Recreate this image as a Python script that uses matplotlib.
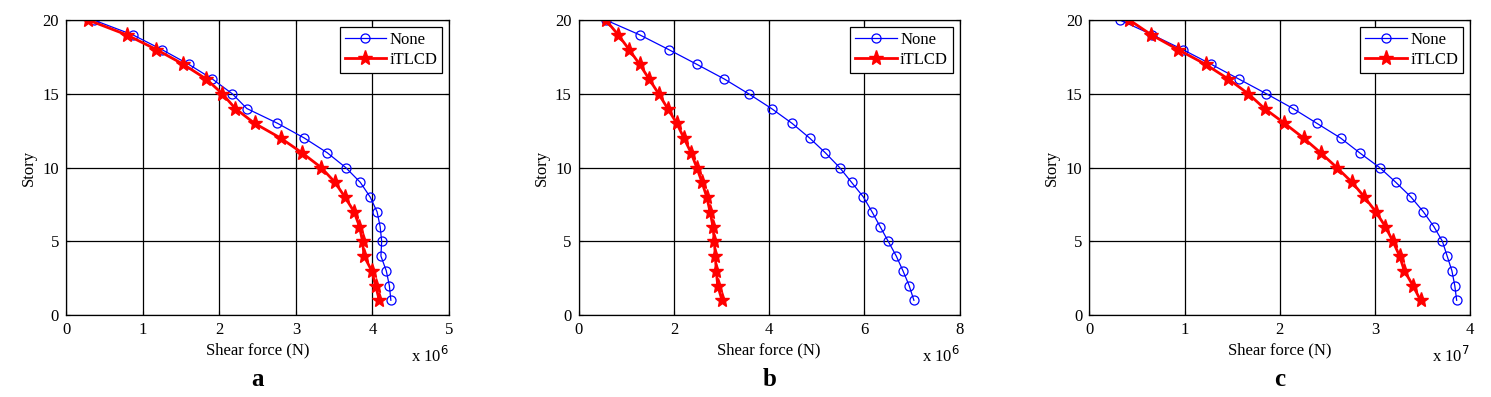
import matplotlib.pyplot as plt

stories = list(range(20, 0, -1))

# panel a (x 1e6 N)
a_none = [0.36, 0.87, 1.25, 1.60, 1.91, 2.17, 2.36, 2.76, 3.11, 3.41,
          3.65, 3.84, 3.97, 4.06, 4.10, 4.12, 4.11, 4.18, 4.22, 4.24]
a_itlcd = [0.29, 0.79, 1.18, 1.53, 1.83, 2.04, 2.21, 2.46, 2.80, 3.08,
           3.33, 3.51, 3.64, 3.76, 3.83, 3.87, 3.89, 3.99, 4.04, 4.09]

# panel b (x 1e6 N)
b_none = [0.57, 1.28, 1.89, 2.48, 3.06, 3.57, 4.05, 4.48, 4.85, 5.18,
          5.48, 5.73, 5.98, 6.16, 6.33, 6.50, 6.67, 6.81, 6.94, 7.04]
b_itlcd = [0.57, 0.83, 1.06, 1.28, 1.48, 1.68, 1.87, 2.06, 2.21, 2.36,
           2.48, 2.59, 2.69, 2.76, 2.82, 2.85, 2.87, 2.89, 2.92, 3.01]

# panel c (x 1e7 N)
c_none = [0.32, 0.66, 0.98, 1.28, 1.57, 1.86, 2.14, 2.39, 2.64, 2.84,
          3.05, 3.22, 3.38, 3.51, 3.62, 3.71, 3.76, 3.81, 3.84, 3.86]
c_itlcd = [0.42, 0.65, 0.93, 1.22, 1.46, 1.67, 1.84, 2.05, 2.25, 2.43,
           2.60, 2.76, 2.89, 3.01, 3.11, 3.19, 3.26, 3.31, 3.40, 3.48]

panels = [
    ("a", a_none, a_itlcd, 5, [0, 1, 2, 3, 4, 5], "6", 0.0443, 0.2569),
    ("b", b_none, b_itlcd, 8, [0, 2, 4, 6, 8], "6", 0.3881, 0.2555),
    ("c", c_none, c_itlcd, 4, [0, 1, 2, 3, 4], "7", 0.7307, 0.2552),
]

plt.rcParams['font.family'] = ['Liberation Serif', 'DejaVu Serif']

fig = plt.figure(figsize=(14.91, 3.97), dpi=100)

for letter, none_v, itlcd_v, xmax, xticks, exp, left, width in panels:
    ax = fig.add_axes([left, 0.2065, width, 0.743])
    ax.plot(none_v, stories, color='blue', lw=0.9, marker='o', ms=6.5,
            mfc='none', mec='blue', mew=0.9, label='None')
    ax.plot(itlcd_v, stories, color='red', lw=2, marker='*', ms=11,
            mfc='red', mec='red', label='iTLCD')
    ax.set_xlim(0, xmax)
    ax.set_ylim(0, 20)
    ax.set_xticks(xticks)
    ax.set_yticks([0, 5, 10, 15, 20])
    ax.grid(True, color='black', lw=0.9)
    ax.tick_params(direction='in', top=True, right=True, labelsize=12,
                   length=3, pad=5)
    for s in ax.spines.values():
        s.set_linewidth(0.9)
    ax.set_xlabel('Shear force (N)', fontsize=12, labelpad=3)
    ax.set_ylabel('Story', fontsize=12, labelpad=4)
    ax.text(1.0, -0.14, r'x 10$^{%s}$' % exp, transform=ax.transAxes,
            ha='right', va='center', fontsize=12)
    ax.text(0.5, -0.22, letter, transform=ax.transAxes, ha='center',
            va='center', fontsize=18, fontweight='bold')
    leg = ax.legend(loc='upper right', fontsize=12, fancybox=False,
                    framealpha=1, edgecolor='black', borderpad=0.3,
                    handlelength=2.5, handletextpad=0.2, labelspacing=0.25,
                    borderaxespad=0.4)
    leg.get_frame().set_linewidth(0.9)

fig.savefig('out.png', dpi=100)
